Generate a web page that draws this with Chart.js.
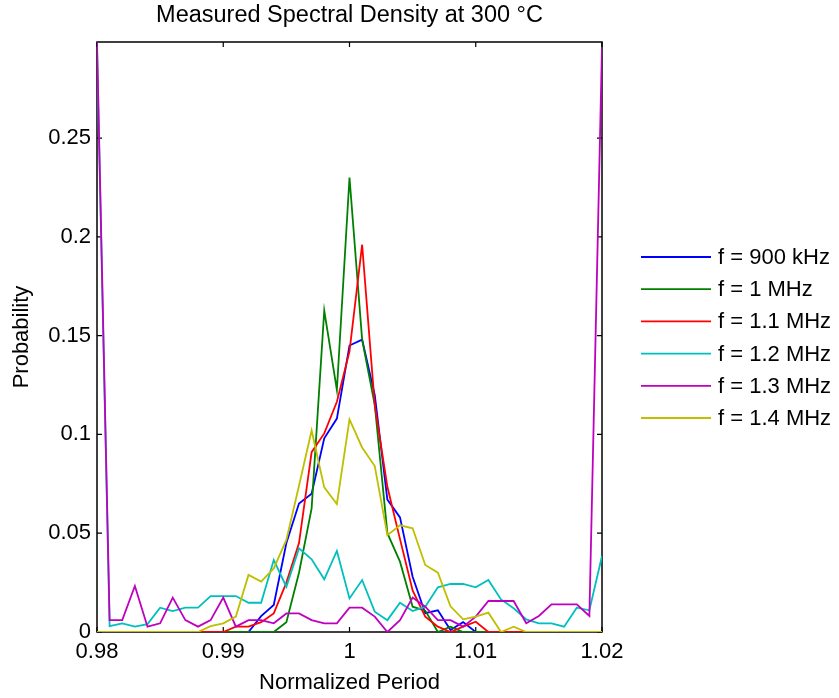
<!DOCTYPE html>
<html>
<head>
<meta charset="utf-8">
<script src="https://cdn.jsdelivr.net/npm/chart.js@4.4.1/dist/chart.umd.min.js"></script>
<style>
  html, body { margin: 0; padding: 0; background: #fff; }
  #spectrumChart { display: block; }
</style>
</head>
<body>
<canvas id="spectrumChart" width="839" height="698"></canvas>
<script>
const periods = [
    0.980, 0.981, 0.982, 0.983, 0.984, 0.985, 0.986, 0.987, 0.988, 0.989,
    0.990, 0.991, 0.992, 0.993, 0.994, 0.995, 0.996, 0.997, 0.998, 0.999,
    1.000, 1.001, 1.002, 1.003, 1.004, 1.005, 1.006, 1.007, 1.008, 1.009,
    1.010, 1.011, 1.012, 1.013, 1.014, 1.015, 1.016, 1.017, 1.018, 1.019,
    1.020
];

const seriesLabels = ["f = 900 kHz", "f = 1 MHz", "f = 1.1 MHz", "f = 1.2 MHz", "f = 1.3 MHz", "f = 1.4 MHz"];

const f900kHz = [
    0, 0, 0, 0, 0, 0, 0, 0, 0, 0,
    0, 0, 0, 0.008, 0.0137, 0.045, 0.065, 0.07, 0.098, 0.108,
    0.145, 0.148, 0.12, 0.067, 0.058, 0.028, 0.0095, 0.011, 0.001, 0.005,
    0, 0, 0, 0, 0, 0, 0, 0, 0, 0,
    0
];

const f1MHz = [
    0, 0, 0, 0, 0, 0, 0, 0, 0, 0,
    0, 0, 0, 0, 0, 0.005, 0.03, 0.0626, 0.1626, 0.1225,
    0.23, 0.148, 0.115, 0.05, 0.0356, 0.0128, 0.0108, 0, 0.0027, 0,
    0, 0, 0, 0, 0, 0, 0, 0, 0, 0,
    0
];

const f1_1MHz = [
    0, 0, 0, 0, 0, 0, 0, 0, 0, 0,
    0, 0.0027, 0.0027, 0.005, 0.0094, 0.025, 0.045, 0.091, 0.1005, 0.1165,
    0.142, 0.196, 0.115, 0.0735, 0.047, 0.021, 0.0078, 0.0027, 0, 0.0027,
    0.0052, 0, 0, 0, 0, 0, 0, 0, 0, 0,
    0
];

const f1_2MHz = [
    0.296, 0.003, 0.0044, 0.0027, 0.004, 0.0123, 0.0106, 0.0123, 0.0123, 0.0182,
    0.0182, 0.0182, 0.0148, 0.0148, 0.0364, 0.0229, 0.0423, 0.0368, 0.0267, 0.041,
    0.017, 0.0263, 0.0103, 0.006, 0.0148, 0.0106, 0.0128, 0.0226, 0.0243, 0.0243,
    0.0226, 0.0263, 0.0165, 0.012, 0.0064, 0.0044, 0.0044, 0.0027, 0.0123, 0.011,
    0.0385
];

const f1_3MHz = [
    0.2986, 0.006, 0.006, 0.0233, 0.0027, 0.0044, 0.0174, 0.006, 0.0027, 0.006,
    0.0174, 0.0027, 0.006, 0.006, 0.0044, 0.0094, 0.0094, 0.006, 0.0044, 0.0044,
    0.0123, 0.0123, 0.0078, 0, 0.006, 0.0174, 0.0128, 0.006, 0.006, 0.0027,
    0.0078, 0.0157, 0.0157, 0.0157, 0.0044, 0.0081, 0.014, 0.014, 0.014, 0.0081,
    0.296
];

const f1_4MHz = [
    0, 0, 0, 0, 0, 0, 0, 0, 0, 0.003,
    0.0044, 0.0078, 0.0289, 0.0255, 0.0322, 0.0466, 0.074, 0.102, 0.0732, 0.0648,
    0.1076, 0.0934, 0.084, 0.049, 0.054, 0.0525, 0.0339, 0.03, 0.013, 0.0064,
    0.0078, 0.0098, 0, 0.0027, 0, 0, 0, 0, 0, 0,
    0
];

const allSeries = [f900kHz, f1MHz, f1_1MHz, f1_2MHz, f1_3MHz, f1_4MHz];
const colors = ["#0000ff", "#008000", "#ff0000", "#00bfbf", "#bf00bf", "#bfbf00"];

const FONT = "'Liberation Sans', Arial, Helvetica, sans-serif";

// matlab style box + inward ticks (under the data), legend on the right
const matlabFrame = {
    id: "matlabFrame",
    beforeDatasetsDraw(chart) {
        const ctx = chart.ctx;
        const area = chart.chartArea;
        const xs = chart.scales.x;
        const ys = chart.scales.y;
        ctx.save();
        ctx.strokeStyle = "#000";
        ctx.lineWidth = 1.5;
        ctx.strokeRect(area.left, area.top, area.right - area.left, area.bottom - area.top);

        ctx.lineWidth = 1.2;
        ctx.beginPath();
        xs.ticks.forEach(t => {
            const x = xs.getPixelForValue(t.value);
            ctx.moveTo(x, area.bottom);
            ctx.lineTo(x, area.bottom - 5);
            ctx.moveTo(x, area.top);
            ctx.lineTo(x, area.top + 5);
        });
        ys.ticks.forEach(t => {
            const y = ys.getPixelForValue(t.value);
            ctx.moveTo(area.left, y);
            ctx.lineTo(area.left + 5, y);
            ctx.moveTo(area.right, y);
            ctx.lineTo(area.right - 5, y);
        });
        ctx.stroke();
        ctx.restore();
    },
    afterDraw(chart) {
        const ctx = chart.ctx;
        ctx.save();
        ctx.font = "22px " + FONT;
        ctx.textBaseline = "middle";
        ctx.textAlign = "left";
        chart.data.datasets.forEach((ds, i) => {
            const y = 257 + i * 32.2;
            ctx.strokeStyle = ds.borderColor;
            ctx.lineWidth = 1.8;
            ctx.beginPath();
            ctx.moveTo(641, y);
            ctx.lineTo(711, y);
            ctx.stroke();
            ctx.fillStyle = "#000";
            ctx.fillText(ds.label, 718, y + 1);
        });
        ctx.restore();
    }
};

new Chart(document.getElementById("spectrumChart"), {
    type: "line",
    data: {
        datasets: allSeries.map((vals, i) => ({
            label: seriesLabels[i],
            data: periods.map((p, j) => ({ x: p, y: vals[j] })),
            borderColor: colors[i],
            backgroundColor: colors[i],
            borderWidth: 1.8,
            pointRadius: 0,
            tension: 0,
            fill: false,
            order: allSeries.length - i
        }))
    },
    options: {
        responsive: false,
        animation: false,
        layout: { padding: { left: 0, right: 237, top: 0, bottom: 0 } },
        plugins: {
            legend: { display: false },
            tooltip: { enabled: false },
            title: {
                display: true,
                text: "Measured Spectral Density at 300 °C",
                color: "#000",
                fullSize: false,
                font: { family: FONT, size: 23.5, weight: "normal" },
                padding: { top: 1, bottom: 12.8 }
            }
        },
        scales: {
            x: {
                type: "linear",
                min: 0.98,
                max: 1.02,
                grid: { display: false, drawTicks: false },
                border: { display: false },
                ticks: {
                    stepSize: 0.01,
                    padding: 7,
                    maxRotation: 0,
                    color: "#000",
                    font: { family: FONT, size: 22 },
                    callback: v => String(+Number(v).toFixed(3))
                },
                title: {
                    display: true,
                    text: "Normalized Period",
                    color: "#000",
                    font: { family: FONT, size: 22 },
                    padding: { top: 0, bottom: 1.8 }
                },
                afterFit: scale => { scale.height = 66; }
            },
            y: {
                min: 0,
                max: 0.2986,
                grid: { display: false, drawTicks: false },
                border: { display: false },
                afterBuildTicks: scale => {
                    scale.ticks = scale.ticks.filter(t => t.value <= 0.2501);
                },
                ticks: {
                    stepSize: 0.05,
                    padding: 6,
                    color: "#000",
                    font: { family: FONT, size: 22 },
                    callback: v => String(+Number(v).toFixed(3))
                },
                title: {
                    display: true,
                    text: "Probability",
                    color: "#000",
                    font: { family: FONT, size: 22 },
                    padding: { top: 9, bottom: 0 }
                },
                afterFit: scale => { scale.width = 97; }
            }
        }
    },
    plugins: [matlabFrame]
});
</script>
</body>
</html>
